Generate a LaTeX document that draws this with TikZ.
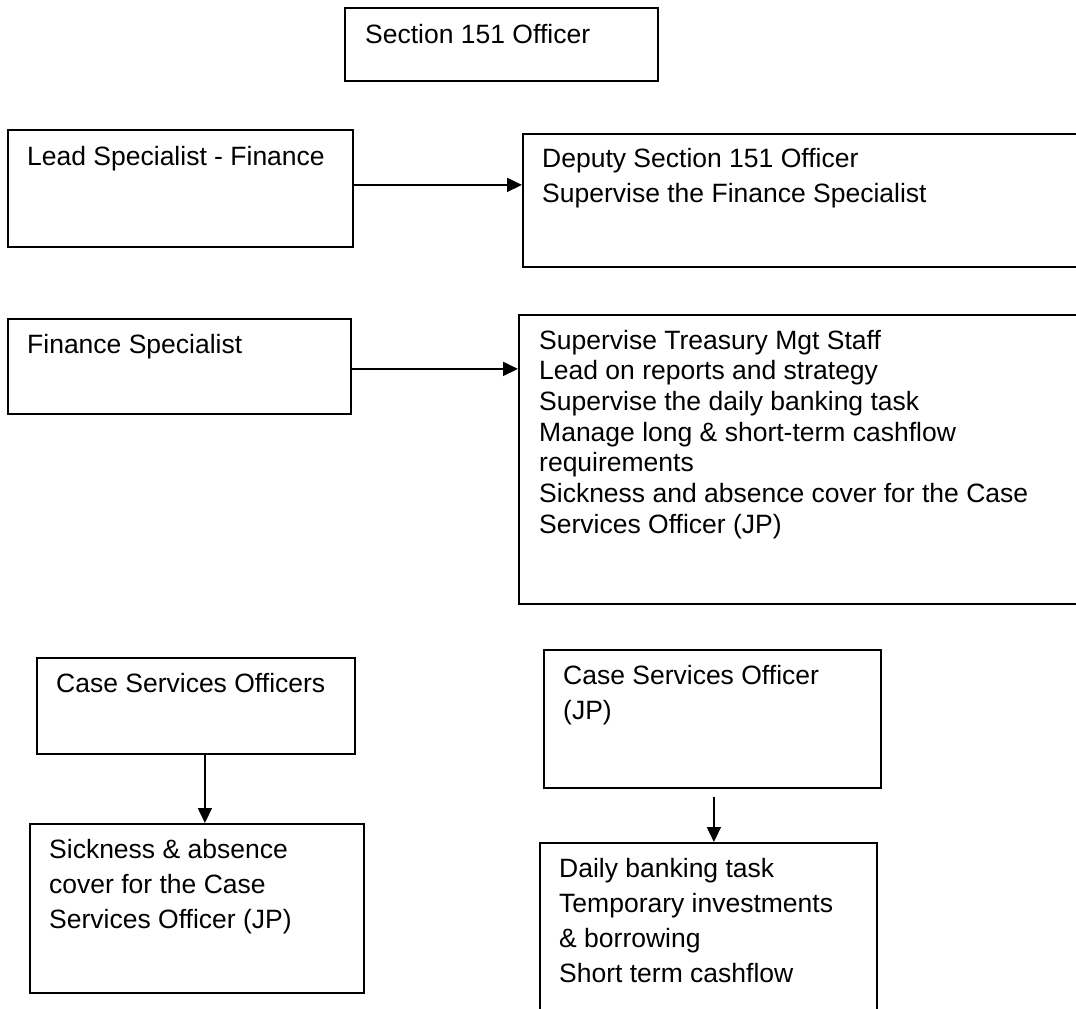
\documentclass[tikz,border=0pt]{standalone}
\usepackage{fontspec}
\setmainfont{Liberation Sans}
\usetikzlibrary{arrows.meta}
\tikzset{
  box/.style={draw=black, line width=1.8pt, rectangle, inner sep=0pt, anchor=north west},
  txt/.style={anchor=base west, inner sep=0pt, font=\fontsize{26.5}{35}\selectfont},
  txttight/.style={anchor=base west, inner sep=0pt, font=\fontsize{26.5}{30.7}\selectfont},
  arr/.style={line width=1.8pt, -{Triangle[length=15pt,width=14pt]}}
}
\begin{document}
\begin{tikzpicture}[x=1pt,y=-1pt]
\useasboundingbox (0,0) rectangle (1076,1009);
\fill[white] (0,0) rectangle (1076,1009);
\begin{scope}
\clip (0,0) rectangle (1076,1009);
% boxes
\node[box, minimum width=313pt, minimum height=73pt] (sec) at (344,7) {};
\node[box, minimum width=345pt, minimum height=117pt] (lead) at (7,129) {};
\node[box, minimum width=570pt, minimum height=133pt] (dep) at (522,133) {};
\node[box, minimum width=343pt, minimum height=95pt] (fin) at (7,318) {};
\node[box, minimum width=574pt, minimum height=289pt] (big) at (518,314) {};
\node[box, minimum width=318pt, minimum height=96pt] (cso) at (36,657) {};
\node[box, minimum width=334pt, minimum height=169pt] (sick) at (29,823) {};
\node[box, minimum width=337pt, minimum height=138pt] (jp) at (543,649) {};
\node[box, minimum width=337pt, minimum height=200pt] (daily) at (539,842) {};
% texts
\node[txt] (secT) at (365,43) {Section 151 Officer};
\node[txt] (leadT) at (27,165) {Lead Specialist - Finance};
\node[txt] (depT) at (542,167) {\vtop{\hbox{Deputy Section 151 Officer}\hbox{Supervise the Finance Specialist}}};
\node[txt] (finT) at (27,353) {Finance Specialist};
\node[txttight] (bigT) at (539,349) {\vtop{\hbox{Supervise Treasury Mgt Staff}\hbox{Lead on reports and strategy}\hbox{Supervise the daily banking task}\hbox{Manage long \& short-term cashflow}\hbox{requirements}\hbox{Sickness and absence cover for the Case}\hbox{Services Officer (JP)}}};
\node[txt] (csoT) at (56,692) {Case Services Officers};
\node[txt] (sickT) at (49,858) {\vtop{\hbox{Sickness \& absence}\hbox{cover for the Case}\hbox{Services Officer (JP)}}};
\node[txt] (jpT) at (563,684) {\vtop{\hbox{Case Services Officer}\hbox{(JP)}}};
\node[txt] (dailyT) at (559,877) {\vtop{\hbox{Daily banking task}\hbox{Temporary investments}\hbox{\& borrowing}\hbox{Short term cashflow}}};
% connectors
\coordinate (a1) at ([yshift=3.5pt]lead.east);
\draw[arr] (a1) -- (a1 -| dep.west);
\coordinate (a2) at ([yshift=-2.5pt]fin.east);
\draw[arr] (a2) -- (a2 -| big.west);
\coordinate (a3) at ([xshift=9pt]cso.south);
\draw[arr] (a3) -- (a3 |- sick.north);
\coordinate (a4) at ([xshift=1.5pt,yshift=-8pt]jp.south);
\draw[arr] (a4) -- (a4 |- daily.north);
\end{scope}
\end{tikzpicture}
\end{document}
